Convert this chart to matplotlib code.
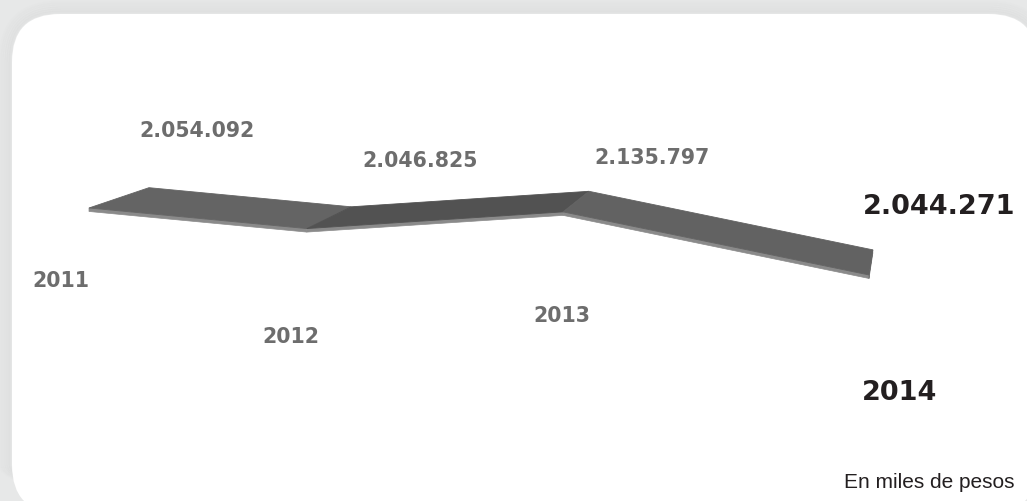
import numpy as np
import matplotlib.pyplot as plt
from matplotlib.patches import Polygon, FancyBboxPatch

# Datos (miles de pesos)
years = ['2011', '2012', '2013', '2014']
values = [2054092, 2046825, 2135797, 2044271]

W, H = 1027, 501

# simple perspective used for the 3D ribbon (pixel space, y down)
X0, SX, G = 89.0, 201.5, 0.075
Y0, VREF, VSCALE, TILT = 212.1, 2044271, 0.42 / 1000, 16.24
VP = np.array([922.0, -74.0])   # vanishing point of the depth axis
DEPTH = 0.072
THICK = 3.5


def front(i, v):
    t = i / (1 - G * i)
    return np.array([X0 + SX * t, Y0 - VSCALE * (v - VREF) + TILT * t])


def back(p):
    return p + DEPTH * (VP - p)


def fmt(v):
    return f'{v:,}'.replace(',', '.')


fig = plt.figure(figsize=(W / 100, H / 100), dpi=100)
fig.patch.set_facecolor('#e7e8e8')
ax = fig.add_axes([0, 0, 1, 1])
ax.set_xlim(0, W)
ax.set_ylim(H, 0)
ax.axis('off')

# soft shadow round the white panel
for k in range(6):
    grow = 2 + k * 2
    ax.add_patch(FancyBboxPatch((12 - grow, 14 - grow), 1025 + 2 * grow, 499 + 2 * grow,
                                boxstyle=f'round,pad=0,rounding_size={48 + grow}',
                                facecolor='none', edgecolor='#d8d9d9',
                                lw=2, alpha=0.35 - k * 0.05, zorder=1))
ax.add_patch(FancyBboxPatch((12, 14), 1025, 499,
                            boxstyle='round,pad=0,rounding_size=48',
                            facecolor='white', edgecolor='none', zorder=2))

fr = [front(i, v) for i, v in enumerate(values)]
bk = [back(p) for p in fr]
down = np.array([0, THICK])

top_colors = ['#646464', '#525252', '#626262']
for s in range(len(values) - 1):
    side = [fr[s], fr[s + 1], fr[s + 1] + down, fr[s] + down]
    ax.add_patch(Polygon(side, closed=True, facecolor='#8a8a8a',
                         edgecolor='#8a8a8a', lw=0.5, zorder=3))
for s in range(len(values) - 1):
    top = [fr[s], fr[s + 1], bk[s + 1], bk[s]]
    ax.add_patch(Polygon(top, closed=True, facecolor=top_colors[s],
                         edgecolor=top_colors[s], lw=0.6, zorder=4))
end = [fr[-1], bk[-1], bk[-1] + down, fr[-1] + down]
ax.add_patch(Polygon(end, closed=True, facecolor='#777777',
                     edgecolor='#777777', lw=0.5, zorder=3))

# value and year labels
gray = '#6d6d6d'
dark = '#231f20'
value_pos = [(197, 137), (420, 167), (652, 164), (939, 214)]
year_pos = [(61, 287), (291, 343), (562, 322), (900, 400)]
for i, v in enumerate(values):
    last = i == len(values) - 1
    col = dark if last else gray
    size = 19.5 if last else 14.8
    ax.text(*value_pos[i], fmt(v), ha='center', va='baseline', color=col,
            fontsize=size, fontweight='bold', family='DejaVu Sans', zorder=5)
    ax.text(*year_pos[i], years[i], ha='center', va='baseline', color=col,
            fontsize=size, fontweight='bold', family='DejaVu Sans', zorder=5)

ax.text(929, 488, 'En miles de pesos', ha='center', va='baseline', color=dark,
        fontsize=15, family='Liberation Sans', zorder=5)

fig.savefig('out.png', dpi=100, facecolor=fig.get_facecolor())
